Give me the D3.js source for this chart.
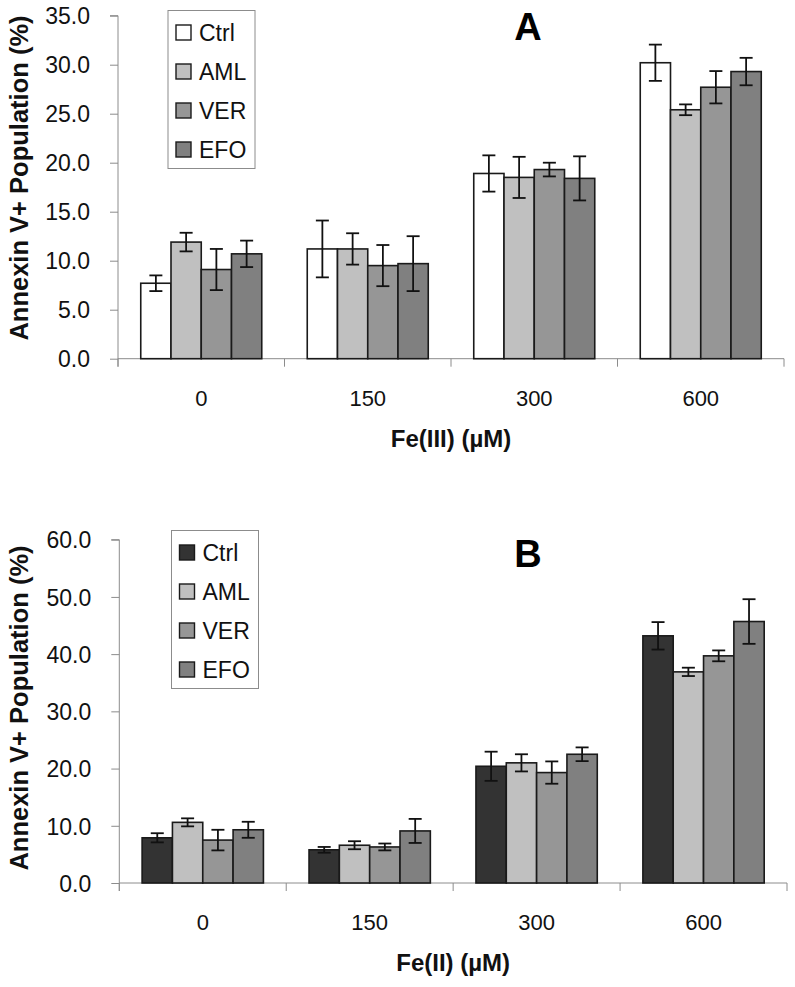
<!DOCTYPE html>
<html>
<head>
<meta charset="utf-8">
<script src="https://cdn.jsdelivr.net/npm/d3@7"></script>
<style>
  html, body { margin: 0; padding: 0; background: #fff; }
  svg { display: block; font-family: Arial, "Liberation Sans", sans-serif; }
</style>
</head>
<body>
<svg id="chart" width="795" height="987"></svg>
<script>
// ---------- data ----------
const doses = ["0", "150", "300", "600"];
const seriesNames = ["Ctrl", "AML", "VER", "EFO"];

// Panel A: Fe(III)
const aCtrl = [7.7, 11.2, 18.9, 30.2];
const aAML  = [11.9, 11.2, 18.5, 25.4];
const aVER  = [9.1, 9.5, 19.3, 27.7];
const aEFO  = [10.7, 9.7, 18.4, 29.3];
const aCtrlErr = [0.8, 2.9, 1.85, 1.85];
const aAMLErr  = [0.95, 1.6, 2.1, 0.55];
const aVERErr  = [2.1, 2.1, 0.7, 1.65];
const aEFOErr  = [1.35, 2.8, 2.25, 1.4];
const aTicks = [0, 5, 10, 15, 20, 25, 30, 35];

// Panel B: Fe(II)
const bCtrl = [7.9, 5.8, 20.4, 43.2];
const bAML  = [10.6, 6.6, 21.0, 36.9];
const bVER  = [7.5, 6.3, 19.3, 39.7];
const bEFO  = [9.3, 9.1, 22.5, 45.7];
const bCtrlErr = [0.8, 0.5, 2.55, 2.4];
const bAMLErr  = [0.7, 0.7, 1.5, 0.73];
const bVERErr  = [1.8, 0.6, 1.95, 0.95];
const bEFOErr  = [1.4, 2.1, 1.2, 3.9];
const bTicks = [0, 10, 20, 30, 40, 50, 60];

const colorsA = ["#ffffff", "#c0c0c0", "#969696", "#808080"];
const colorsB = ["#333333", "#c0c0c0", "#969696", "#808080"];

const svg = d3.select("#chart");
const fmt = d3.format(".1f");

function drawPanel(cfg) {
  const g = svg.append("g");
  const values = [cfg.vals[0], cfg.vals[1], cfg.vals[2], cfg.vals[3]];
  const y = d3.scaleLinear().domain([0, cfg.max]).range([cfg.bottom, cfg.top]);
  const x0 = d3.scaleBand().domain(doses).range([cfg.left, cfg.right]).padding(0);
  const x1 = d3.scaleBand().domain(seriesNames).range([0, x0.bandwidth()])
    .paddingInner(0).paddingOuter(0.752);

  // y axis
  const yAxis = d3.axisLeft(y).tickValues(cfg.ticks).tickFormat(fmt).tickSize(8).tickPadding(20);
  const ya = g.append("g").attr("transform", `translate(${cfg.left},0)`).call(yAxis);
  ya.select(".domain").attr("stroke", "#8c8c8c").attr("stroke-width", 1)
    .attr("d", `M-8,${y(cfg.max)}H0V${cfg.bottom + 8}`);
  ya.selectAll(".tick line").attr("stroke", "#8c8c8c");
  ya.selectAll(".tick text").attr("font-size", 23).attr("fill", "#111")
    .attr("font-family", "Arial, 'Liberation Sans', sans-serif").attr("dy", "0.36em");

  // x axis
  const xa = g.append("g").attr("transform", `translate(0,${cfg.bottom})`);
  xa.append("line").attr("x1", cfg.left).attr("x2", cfg.right).attr("y1", 0).attr("y2", 0)
    .attr("stroke", "#8c8c8c");
  const edges = doses.map(d => x0(d)).concat([cfg.right]);
  xa.selectAll("line.ct").data(edges).enter().append("line").attr("class", "ct")
    .attr("x1", d => d).attr("x2", d => d).attr("y1", 0).attr("y2", 8).attr("stroke", "#8c8c8c");
  xa.selectAll("text.cl").data(doses).enter().append("text").attr("class", "cl")
    .attr("x", d => x0(d) + x0.bandwidth() / 2).attr("y", 47)
    .attr("text-anchor", "middle").attr("font-size", 22).attr("fill", "#111").text(d => d);
  g.append("text").attr("x", (cfg.left + cfg.right) / 2).attr("y", cfg.bottom + 88)
    .attr("text-anchor", "middle").attr("font-size", 24).attr("font-weight", "bold")
    .attr("fill", "#111").text(cfg.xTitle);

  // y title
  g.append("text").attr("transform", `translate(28,${cfg.titleY}) rotate(-90)`)
    .attr("text-anchor", "middle").attr("font-size", 25.5).attr("font-weight", "bold")
    .attr("fill", "#111").text("Annexin V+ Population (%)");

  // bars
  const groups = g.selectAll("g.grp").data(doses).enter().append("g").attr("class", "grp")
    .attr("transform", d => `translate(${x0(d)},0)`);
  groups.each(function(dose, i) {
    const sel = d3.select(this);
    const recs = seriesNames.map((s, k) => ({ s, k, v: values[k][i], e: cfg.errs[k][i] }));
    sel.selectAll("rect").data(recs).enter().append("rect")
      .attr("x", d => x1(d.s)).attr("width", x1.bandwidth())
      .attr("y", d => y(d.v)).attr("height", d => y(0) - y(d.v))
      .attr("fill", d => cfg.colors[d.k]).attr("stroke", "#1a1a1a").attr("stroke-width", 1.6);
    const eb = sel.selectAll("g.eb").data(recs).enter().append("g").attr("class", "eb");
    const cx = d => x1(d.s) + x1.bandwidth() / 2;
    eb.append("line").attr("x1", cx).attr("x2", cx)
      .attr("y1", d => y(d.v + d.e)).attr("y2", d => y(d.v - d.e))
      .attr("stroke", "#111").attr("stroke-width", 1.8);
    eb.append("line").attr("x1", d => cx(d) - 6.5).attr("x2", d => cx(d) + 6.5)
      .attr("y1", d => y(d.v + d.e)).attr("y2", d => y(d.v + d.e))
      .attr("stroke", "#111").attr("stroke-width", 1.8);
    eb.append("line").attr("x1", d => cx(d) - 6.5).attr("x2", d => cx(d) + 6.5)
      .attr("y1", d => y(d.v - d.e)).attr("y2", d => y(d.v - d.e))
      .attr("stroke", "#111").attr("stroke-width", 1.8);
  });

  // legend
  const lg = g.append("g").attr("transform", `translate(${cfg.legX},${cfg.legY})`);
  lg.append("rect").attr("x", 0).attr("y", 0).attr("width", 87).attr("height", 158)
    .attr("fill", "#fff").attr("stroke", "#8c8c8c").attr("stroke-width", 1);
  const items = lg.selectAll("g.li").data(seriesNames).enter().append("g").attr("class", "li")
    .attr("transform", (d, i) => `translate(0,${22 + i * 39})`);
  items.append("rect").attr("x", 8).attr("y", -7.5).attr("width", 15).attr("height", 15)
    .attr("fill", (d, i) => cfg.colors[i]).attr("stroke", "#1a1a1a").attr("stroke-width", 1.4);
  items.append("text").attr("x", 31).attr("y", 0).attr("dy", "0.36em")
    .attr("font-size", 23).attr("fill", "#111").text(d => d);

  // panel letter
  g.append("text").attr("x", 528).attr("y", cfg.letterY).attr("text-anchor", "middle")
    .attr("font-size", 38).attr("font-weight", "bold").attr("fill", "#000").text(cfg.letter);
}

drawPanel({
  vals: [aCtrl, aAML, aVER, aEFO], errs: [aCtrlErr, aAMLErr, aVERErr, aEFOErr],
  colors: colorsA, max: 35, ticks: aTicks,
  left: 118, right: 784, top: 15.7, bottom: 358.7,
  xTitle: "Fe(III) (µM)", titleY: 178, legX: 168, legY: 10.5,
  letter: "A", letterY: 40
});
drawPanel({
  vals: [bCtrl, bAML, bVER, bEFO], errs: [bCtrlErr, bAMLErr, bVERErr, bEFOErr],
  colors: colorsB, max: 60, ticks: bTicks,
  left: 119.3, right: 787, top: 539.7, bottom: 883,
  xTitle: "Fe(II) (µM)", titleY: 708, legX: 171.5, legY: 530.5,
  letter: "B", letterY: 566.7
});
</script>
</body>
</html>
